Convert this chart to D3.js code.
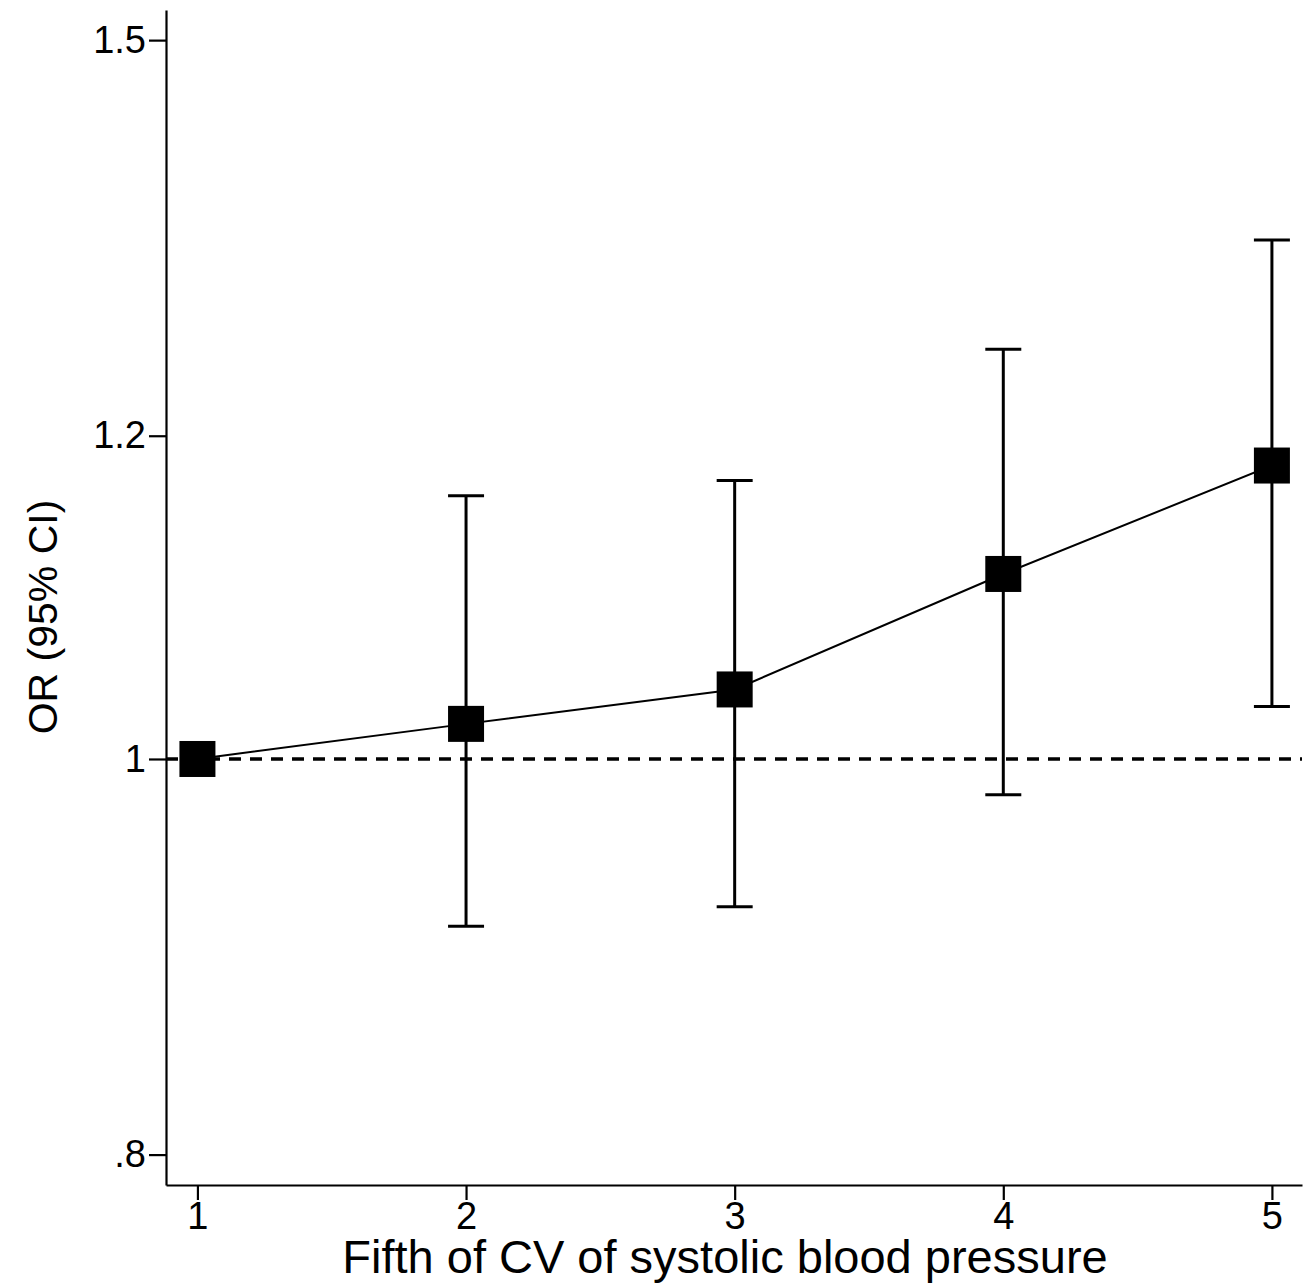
<!DOCTYPE html>
<html>
<head>
<meta charset="utf-8">
<script src="https://cdn.jsdelivr.net/npm/d3@7"></script>
<style>
  body { margin: 0; background: #fff; }
  svg { display: block; }
  text { font-family: "Liberation Sans", Arial, sans-serif; fill: #000; }
</style>
</head>
<body>
<svg></svg>
<script>
// data
const fifths = [1, 2, 3, 4, 5];
const orValues = [1.00, 1.02, 1.04, 1.11, 1.18];
const ciLower = [null, 0.91, 0.92, 0.98, 1.03];
const ciUpper = [null, 1.16, 1.17, 1.26, 1.34];
const yTicks = [0.8, 1, 1.2, 1.5];
const yTickLabels = ['.8', '1', '1.2', '1.5'];
const xTitle = 'Fifth of CV of systolic blood pressure';
const yTitle = 'OR (95% CI)';

const size = {w: 1309, h: 1287};
const plot = {l: 166, r: 1302, t: 10, b: 1185};

const svg = d3.select('svg')
    .attr('width', size.w)
    .attr('height', size.h);

const x = d3.scaleLinear()
    .domain([0.883, 5.112])
    .range([plot.l, plot.r]);

const y = d3.scaleLog()
    .domain([0.7864, 1.5257])
    .range([plot.b, plot.t]);

const rows = fifths.map((f, i) => ({f: f, or: orValues[i], lo: ciLower[i], hi: ciUpper[i]}));

// axes
const yAxis = svg.append('g')
    .attr('transform', `translate(${plot.l},0)`)
    .call(d3.axisLeft(y)
        .tickValues(yTicks)
        .tickFormat((d, i) => yTickLabels[i])
        .tickSize(17)
        .tickSizeOuter(0)
        .tickPadding(3));

const xAxis = svg.append('g')
    .attr('transform', `translate(0,${plot.b})`)
    .call(d3.axisBottom(x)
        .tickValues(fifths)
        .tickFormat(d3.format('d'))
        .tickSize(15)
        .tickSizeOuter(0)
        .tickPadding(2));

[yAxis, xAxis].forEach(g => {
    g.selectAll('path.domain').attr('stroke', '#000').attr('stroke-width', 2.2);
    g.selectAll('.tick line').attr('stroke', '#000').attr('stroke-width', 2.2);
    g.selectAll('.tick text')
        .style('font-family', '"Liberation Sans", Arial, sans-serif')
        .style('font-size', '38px')
        .attr('fill', '#000');
});

// reference line at OR = 1
svg.append('line')
    .attr('x1', plot.l)
    .attr('x2', plot.r)
    .attr('y1', y(1))
    .attr('y2', y(1))
    .attr('stroke', '#000')
    .attr('stroke-width', 3.5)
    .attr('stroke-dasharray', '12,9');

// error bars
const ci = rows.filter(d => d.lo != null);
const capW = 18;

const bars = svg.append('g')
    .attr('stroke', '#000')
    .attr('stroke-width', 3);

bars.selectAll('line.stem')
    .data(ci)
    .join('line')
    .classed('stem', true)
    .attr('x1', d => x(d.f))
    .attr('x2', d => x(d.f))
    .attr('y1', d => y(d.lo))
    .attr('y2', d => y(d.hi));

bars.selectAll('line.capHi')
    .data(ci)
    .join('line')
    .classed('capHi', true)
    .attr('x1', d => x(d.f) - capW)
    .attr('x2', d => x(d.f) + capW)
    .attr('y1', d => y(d.hi))
    .attr('y2', d => y(d.hi));

bars.selectAll('line.capLo')
    .data(ci)
    .join('line')
    .classed('capLo', true)
    .attr('x1', d => x(d.f) - capW)
    .attr('x2', d => x(d.f) + capW)
    .attr('y1', d => y(d.lo))
    .attr('y2', d => y(d.lo));

// connecting line
svg.append('path')
    .datum(rows)
    .attr('fill', 'none')
    .attr('stroke', '#000')
    .attr('stroke-width', 2)
    .attr('d', d3.line().x(d => x(d.f)).y(d => y(d.or)));

// markers
const m = 36;
svg.append('g')
    .selectAll('rect')
    .data(rows)
    .join('rect')
    .attr('x', d => x(d.f) - m / 2)
    .attr('y', d => y(d.or) - m / 2)
    .attr('width', m)
    .attr('height', m)
    .attr('fill', '#000');

// titles
svg.append('text')
    .attr('x', 725)
    .attr('y', 1273)
    .attr('text-anchor', 'middle')
    .style('font-size', '47px')
    .text(xTitle);

svg.append('text')
    .attr('transform', 'translate(57,617) rotate(-90)')
    .attr('text-anchor', 'middle')
    .style('font-size', '41px')
    .text(yTitle);
</script>
</body>
</html>
